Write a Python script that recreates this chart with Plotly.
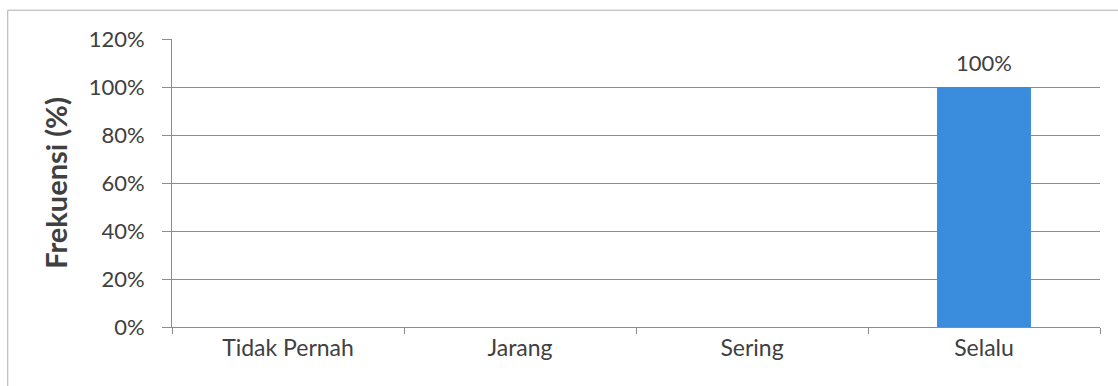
import plotly.graph_objects as go

categories = ["Tidak Pernah", "Jarang", "Sering", "Selalu"]
values = [0, 0, 0, 1.0]
labels = ["", "", "", "100%"]

fig = go.Figure()
fig.add_trace(go.Bar(
    x=categories, y=values,
    marker=dict(color="#3a8ddc", line=dict(width=0)),
    width=0.405,
))

for c, v, t in zip(categories, values, labels):
    if t:
        fig.add_annotation(x=c, y=v, text=t, showarrow=False, yanchor="bottom", yshift=9,
                           font=dict(family="Lato, Open Sans, sans-serif", size=22, color="#404040"))

fig.update_layout(
    width=1118, height=386,
    margin=dict(l=172, r=18, t=39, b=59),
    paper_bgcolor="white", plot_bgcolor="white",
    showlegend=False,
    font=dict(family="Lato, Open Sans, sans-serif", size=22, color="#404040"),
    xaxis=dict(
        showgrid=False, showline=True, linecolor="#8c8c8c", linewidth=1,
        ticks="outside", tickson="boundaries", ticklen=6, tickcolor="#8c8c8c",
        tickfont=dict(size=23, color="#404040"),
    ),
    yaxis=dict(
        range=[0, 1.2], dtick=0.2, tickformat=".0%",
        showgrid=True, gridcolor="#8c8c8c", gridwidth=1,
        showline=True, linecolor="#8c8c8c", linewidth=1,
        ticks="outside", ticklen=9, tickcolor="#8c8c8c",
        tickfont=dict(size=22, color="#404040"),
        ticklabelstandoff=13,
        zeroline=False,
        title=dict(text="<b>Frekuensi (%)</b>", font=dict(size=29, color="#404040"), standoff=12),
    ),
    shapes=[
        dict(type="line", xref="paper", yref="paper", x0=-0.177, x1=1.03, y0=1.1, y1=1.1,
             line=dict(color="#b0b0b0", width=1)),
        dict(type="line", xref="paper", yref="paper", x0=-0.177, x1=-0.177, y0=1.1, y1=-0.22,
             line=dict(color="#b0b0b0", width=1)),
    ],
)

fig.write_html("out.html")
